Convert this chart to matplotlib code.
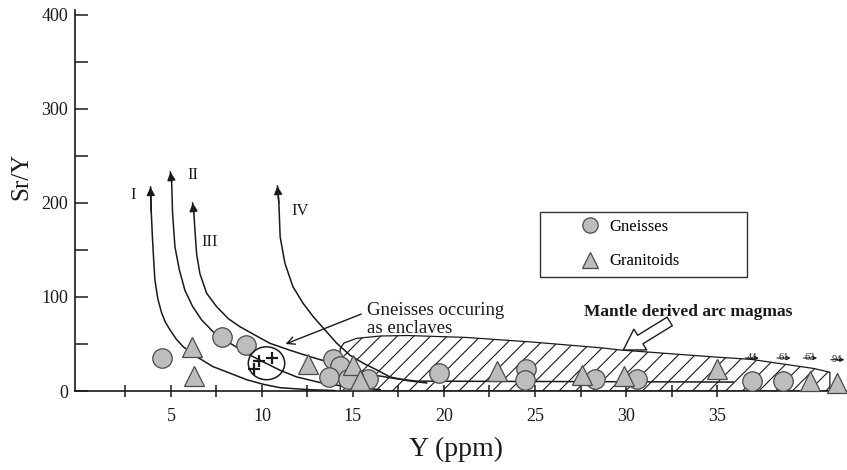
import matplotlib
matplotlib.use('Agg')
import matplotlib.pyplot as plt
from matplotlib.patches import Polygon, Ellipse, Rectangle
from matplotlib.lines import Line2D

plt.rcParams['font.family'] = ['Liberation Serif', 'DejaVu Serif']
plt.rcParams['hatch.linewidth'] = 0.8
plt.rcParams['hatch.color'] = '#333333'

INK = '#1a1a1a'

# Gneisses (circles)
gneiss_y_ppm = [4.5, 7.8, 9.1, 13.9, 14.3, 13.7, 14.75, 15.85, 19.7, 24.5, 24.45, 28.3, 30.6, 36.9, 38.65]
gneiss_sr_y = [35.6, 57.5, 48.9, 33.8, 27.0, 14.4, 12.8, 13.0, 19.0, 23.6, 11.2, 12.5, 12.3, 10.6, 10.6]

# Granitoids (triangles)
granit_y_ppm = [6.15, 6.25, 12.55, 15.0, 15.4, 22.9, 27.6, 29.9, 35.0, 40.1, 41.6]
granit_sr_y = [46.6, 16.4, 28.3, 27.9, 12.0, 21.5, 17.0, 15.7, 23.8, 10.6, 8.8]

# off-scale samples, true Y values written above them
off_x = [36.9, 38.65, 40.1, 41.6]
off_y = [10.6, 10.6, 10.6, 8.8]
off_labels = ['44', '61', '63', '94']

# gneisses occuring as enclaves
encl_x = [9.85, 10.55, 9.55]
encl_y = [32.0, 35.0, 23.2]

# melting curves I-IV (top end first)
curve_1_x = [3.88, 3.92, 3.98, 4.05, 4.12, 4.28, 4.49, 4.7, 4.95, 5.3, 5.68, 6.41, 7.3,
             8.24, 9.16, 10.1, 11.0, 12.5, 14.0]
curve_1_y = [217, 190, 165, 140, 118, 98, 83, 73, 65, 55, 47, 36.5, 26,
             19, 12, 7, 3.5, 1.5, 0.5]
curve_2_x = [4.97, 5.04, 5.09, 5.22, 5.46, 5.77, 6.19, 6.69, 7.42, 8.24, 9.16, 10.07,
             11.0, 11.9, 13.3, 14.9, 16.5]
curve_2_y = [233, 222, 189, 153.5, 129, 107, 90, 75.5, 61, 51, 40, 31,
             22, 15, 8.5, 4, 1.5]
curve_3_x = [6.19, 6.26, 6.32, 6.41, 6.59, 6.96, 7.51, 8.15, 8.79, 9.6, 10.44, 11.5,
             12.64, 13.8, 15.0, 16.3, 17.4, 18.5, 35.9]
curve_3_y = [200, 189, 171, 146, 125, 104, 89.7, 77, 68.4, 59.6, 50.7, 43.6,
             36.5, 30, 23, 16.5, 13, 10.5, 9.5]
curve_4_x = [10.85, 10.93, 11.0, 11.26, 11.7, 12.27, 12.82, 13.46, 14.1, 14.84, 15.57,
             16.3, 17.03, 18.0, 19.05]
curve_4_y = [218, 200, 164, 136, 111, 93, 79, 65, 51, 38, 29.5,
             22.5, 15, 11, 8.5]
curve_names = ['I', 'II', 'III', 'IV']
curve_label_x = [2.9, 6.2, 7.1, 12.1]
curve_label_y = [209, 230, 159, 192]

# field of mantle derived arc magmas
arc_x = [14.3, 14.3, 14.5, 15.2, 16.5, 18.0, 21.2, 24.9, 28.6, 29.7, 35.0, 36.9, 40.3, 41.2, 41.2]
arc_y = [0, 45, 51, 56, 58.5, 59, 57, 52, 46, 43.6, 36, 33.6, 24, 20, 0]

fig = plt.figure(figsize=(8.47, 4.70), dpi=100)
ax = fig.add_axes([75 / 847, 79 / 470, 772 / 847, 381 / 470])
ax.set_xlim(-0.27, 42.14)
ax.set_ylim(0, 405.3)

for side in ['top', 'right']:
    ax.spines[side].set_visible(False)
for side in ['left', 'bottom']:
    ax.spines[side].set_linewidth(1.2)
    ax.spines[side].set_color(INK)

ax.set_xticks([5, 10, 15, 20, 25, 30, 35])
ax.set_xticks([2.5, 7.5, 12.5, 17.5, 22.5, 27.5, 32.5], minor=True)
ax.set_yticks([0, 100, 200, 300, 400])
ax.set_yticks([50, 150, 250, 350], minor=True)
ax.tick_params(axis='x', which='both', direction='inout', length=8, width=1.1, color=INK,
               labelsize=13, pad=8, labelcolor=INK)
ax.tick_params(axis='y', which='both', direction='in', length=9, width=1.1, color=INK,
               labelsize=13, pad=5, labelcolor=INK)

ax.set_xlabel('Y (ppm)', fontsize=20, color=INK)
ax.xaxis.set_label_coords(0.494, -0.12)
ax.set_ylabel('Sr/Y', fontsize=18, color=INK, va='center')
ax.yaxis.set_label_coords(-0.069, 0.564)

# hatched field
field = Polygon(list(zip(arc_x, arc_y)), closed=True, fill=False, hatch='//',
                edgecolor=INK, linewidth=0.9, zorder=1)
ax.add_patch(field)

# curves with arrow heads at the top
curves = [(curve_1_x, curve_1_y), (curve_2_x, curve_2_y),
          (curve_3_x, curve_3_y), (curve_4_x, curve_4_y)]
for (cx, cy), name, lx, ly in zip(curves, curve_names, curve_label_x, curve_label_y):
    ax.plot(cx, cy, color=INK, lw=1.1, zorder=2, solid_joinstyle='round')
    ax.annotate('', xy=(cx[0], cy[0]), xytext=(cx[1], cy[1]),
                arrowprops=dict(arrowstyle='-|>', color=INK, lw=1.1,
                                mutation_scale=12, shrinkA=0, shrinkB=0))
    ax.text(lx, ly, name, fontsize=12, color=INK, ha='center', va='center')

# data points
ax.plot(gneiss_y_ppm, gneiss_sr_y, 'o', ms=14, mfc='#bdbdbd', mec='#4a4a4a', mew=0.9,
        zorder=3, clip_on=False)
ax.plot(granit_y_ppm, granit_sr_y, '^', ms=15, mfc='#bdbdbd', mec='#4a4a4a', mew=0.9,
        zorder=3, clip_on=False)

# off-scale samples: value and a small arrow above each
for x, y, lab in zip(off_x, off_y, off_labels):
    ax.annotate(lab, xy=(x, y), xytext=(0, 17), textcoords='offset points',
                ha='center', va='center', fontsize=7.5, color=INK)
    ax.annotate('', xy=(x + 0.4, y + 24.5), xytext=(x - 0.35, y + 24.5),
                arrowprops=dict(arrowstyle='->', color=INK, lw=0.8,
                                mutation_scale=6, shrinkA=0, shrinkB=0),
                annotation_clip=False)

# enclaves
ax.plot(encl_x, encl_y, '+', ms=8, mew=1.6, color=INK, zorder=4)
ax.add_patch(Ellipse((10.25, 29.5), 2.0, 35, angle=0, fill=False,
                     edgecolor=INK, lw=1.1, zorder=4))
ax.annotate('Gneisses occuring\nas enclaves', xy=(11.3, 50), xytext=(15.75, 76),
            fontsize=13.5, color=INK, ha='left', va='center', linespacing=1.05,
            arrowprops=dict(arrowstyle='->', color=INK, lw=1.0,
                            relpos=(0, 0.72), shrinkA=2, shrinkB=0))

ax.text(33.4, 84, 'Mantle derived arc magmas', fontsize=12.5, fontweight='bold',
        color=INK, ha='center', va='center')
ax.annotate('', xy=(29.85, 43.6), xytext=(32.4, 74),
            arrowprops=dict(arrowstyle='simple,head_length=0.9,head_width=1.1,tail_width=0.45',
                            fc='white', ec=INK, lw=1.0, mutation_scale=16,
                            shrinkA=0, shrinkB=0))

# legend
ax.add_patch(Rectangle((0.602, 0.299), 0.268, 0.171, transform=ax.transAxes,
                       fill=False, edgecolor='#333333', lw=1.0, zorder=5))
handles = [Line2D([], [], ls='', marker='o', ms=11, mfc='#bdbdbd', mec='#4a4a4a', mew=0.9),
           Line2D([], [], ls='', marker='^', ms=12, mfc='#bdbdbd', mec='#4a4a4a', mew=0.9)]
ax.legend(handles, ['Gneisses', 'Granitoids'], loc='center left',
          bbox_to_anchor=(0.637, 0.385), frameon=False, fontsize=12,
          handlelength=1.0, handletextpad=0.65, borderpad=0.4, labelspacing=1.1)

fig.savefig('out.png', dpi=100)
